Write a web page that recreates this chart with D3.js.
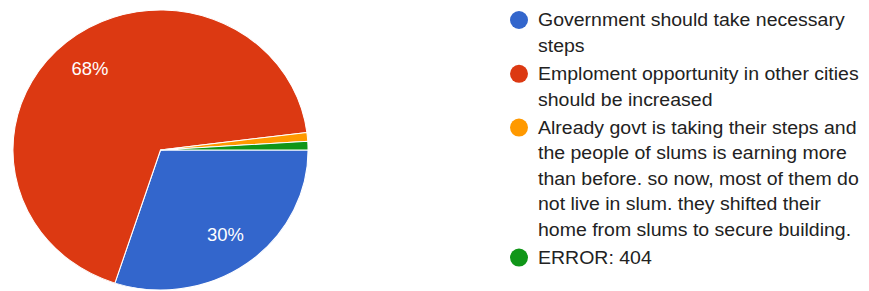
<!DOCTYPE html>
<html>
<head>
<meta charset="utf-8">
<script src="https://cdn.jsdelivr.net/npm/d3@7"></script>
<style>
  body { margin: 0; background: #fff; }
  svg { display: block; font-family: Arial, "Liberation Sans", sans-serif; }
</style>
</head>
<body>
<svg width="869" height="291"></svg>
<script>
// chart data
var categories = [
    "Government should take necessary steps",
    "Emploment opportunity in other cities should be increased",
    "Already govt is taking their steps and the people of slums is earning more than before. so now, most of them do not live in slum. they shifted their home from slums to secure building.",
    "ERROR: 404"
];
var legendLines = [
    ["Government should take necessary", "steps"],
    ["Emploment opportunity in other cities", "should be increased"],
    ["Already govt is taking their steps and", "the people of slums is earning more", "than before. so now, most of them do", "not live in slum. they shifted their", "home from slums to secure building."],
    ["ERROR: 404"]
];
var values = [30, 68, 1, 1];
var colors = ["#3366cc", "#dc3912", "#ff9900", "#109618"];

function main() {
    var svg = d3.select("svg");
    var cx = 160.5, cy = 150, radius = 140, sx = 1.054;

    var data = categories.map(function(c, i) {
        return { name: c, value: values[i], color: colors[i], lines: legendLines[i] };
    });
    var total = d3.sum(values);

    var pie = d3.pie()
        .sort(null)
        .startAngle(Math.PI / 2)
        .endAngle(Math.PI / 2 + 2 * Math.PI)
        .value(function(d) { return d.value; });

    var path = d3.arc().innerRadius(0).outerRadius(radius);
    var label = d3.arc().innerRadius(radius * 0.75).outerRadius(radius * 0.75);

    var g = svg.append("g")
        .attr("transform", "translate(" + cx + "," + cy + ") scale(" + sx + ",1)");

    var arcs = pie(data);

    g.selectAll("path")
        .data(arcs)
        .enter().append("path")
        .attr("d", path)
        .attr("fill", function(d) { return d.data.color; })
        .attr("stroke", "#fff")
        .attr("stroke-width", 1);

    // percentage labels (only for big slices)
    g.selectAll("text")
        .data(arcs.filter(function(d) { return d.endAngle - d.startAngle > 0.5; }))
        .enter().append("text")
        .attr("transform", function(d) { return "translate(" + label.centroid(d) + ")"; })
        .attr("dy", "0.35em")
        .attr("text-anchor", "middle")
        .attr("fill", "#fff")
        .style("font-size", "17.5px")
        .text(function(d) { return Math.round(d.data.value / total * 100) + "%"; });

    // legend
    var lineH = 25.4, gap = 3, fs = 18.5;
    var legend = svg.append("g").attr("transform", "translate(519,0)");
    var y = 20;
    data.forEach(function(d) {
        var item = legend.append("g").attr("transform", "translate(0," + y + ")");
        item.append("circle")
            .attr("r", 9)
            .attr("fill", d.color);
        var t = item.append("text")
            .attr("transform", "translate(19,0) scale(" + sx + ",1)")
            .attr("fill", "#222")
            .style("font-size", fs + "px");
        d.lines.forEach(function(l, i) {
            t.append("tspan")
                .attr("x", 0)
                .attr("y", i * lineH)
                .attr("dy", "0.35em")
                .text(l);
        });
        y += d.lines.length * lineH + gap;
    });
}
main();
</script>
</body>
</html>
